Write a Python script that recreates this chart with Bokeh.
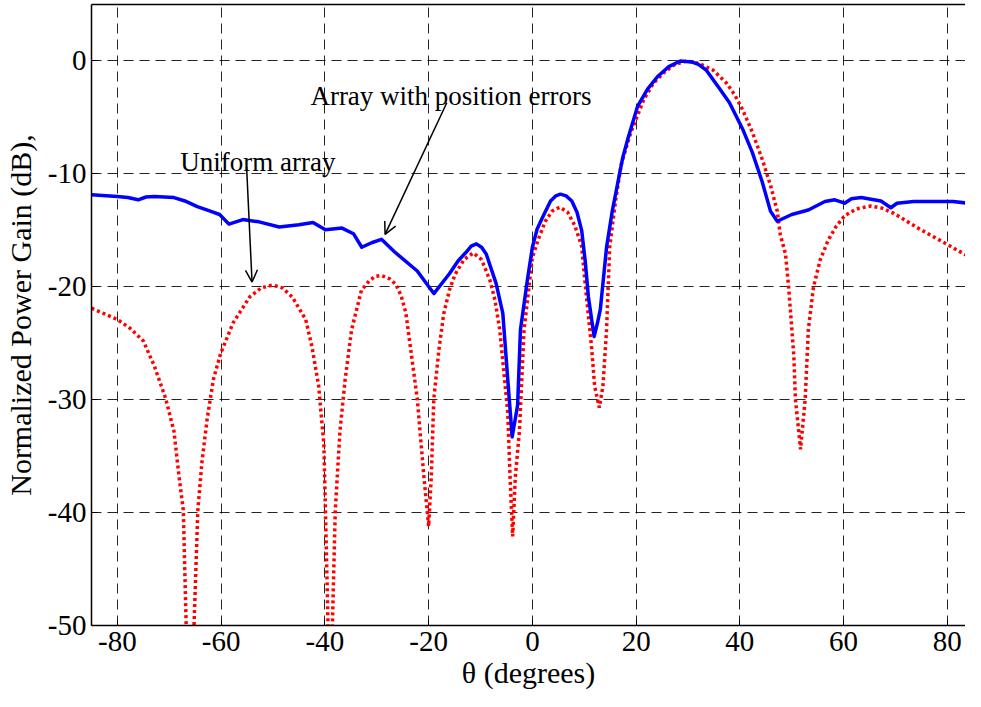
from bokeh.plotting import figure
from bokeh.models import FixedTicker, LinearAxis, Arrow, OpenHead, Label, Range1d
from bokeh.embed import file_html
from bokeh.resources import INLINE

# ---- data ----
x_ticks = [-80, -60, -40, -20, 0, 20, 40, 60, 80]
y_ticks = [-50, -40, -30, -20, -10, 0]
x_tick_labels = ["-80", "-60", "-40", "-20", "0", "20", "40", "60", "80"]
y_tick_labels = ["-50", "-40", "-30", "-20", "-10", "0"]

# Uniform array (red dotted)
uni_theta = [-85, -80, -77.5, -75, -72.9, -70.7, -69.1, -68.1, -67.3, -66.1, -64.5, -63.7,
             -62.7, -61.5, -60.1, -57.7, -54.5, -52.3, -50.1, -48.2, -46.3, -43.7, -42.5,
             -41.2, -40.2, -39.9, -39.0, -38.0, -37.1, -36.1, -34.85, -32.95, -31.5, -30.4,
             -29.1, -27.5, -26.3, -25.3, -24.4, -22.2, -20.9, -20.0, -19.5, -19.0, -18.0,
             -17.1, -16.0, -14.9, -13.2, -11.4, -9.8, -8.2, -7.2, -6.3, -4.75, -4.3, -3.8,
             -3.3, -2.5, -1.6, 0, 1.3, 2.5, 3.8, 5.3, 6.8, 8.2, 9.5, 10.1, 11.4, 12.0, 12.9,
             13.6, 14.3, 14.9, 16.0, 17.1, 19.0, 21.5, 23.3, 25.3, 27.5, 29.8, 32.0, 34.8,
             37.4, 39.0, 40.5, 42.4, 44.3, 45.9, 47.2, 47.8, 48.8, 49.4, 50.4, 50.7, 51.7,
             52.6, 53.2, 54.2, 55.5, 57.0, 58.5, 60.2, 62.5, 65.2, 67.5, 69.7, 74.7, 79.8, 84]
uni_gain = [-21.9, -22.9, -23.7, -24.8, -27.0, -29.9, -32.8, -36.9, -39.8, -62, -39.8, -35.5,
            -31.7, -28.2, -25.9, -23.2, -20.9, -20.1, -19.85, -20.1, -20.9, -22.9, -25.3,
            -28.8, -34.0, -39.8, -58, -39.8, -32.8, -28.2, -23.8, -20.3, -19.5, -19.1,
            -19.0, -19.3, -19.8, -20.8, -22.3, -29.9, -36.9, -41.2, -36.9, -29.9, -25.5,
            -22.4, -20.3, -18.9, -17.6, -17.0, -17.6, -19.4, -21.2, -23.8, -31.1, -36.9, -42.1,
            -36.9, -32.8, -23.8, -17.4, -15.6, -14.2, -13.3, -12.95, -13.4, -14.6, -16.4, -19.4, -25.3, -28.8, -30.7,
            -28.8, -23.8, -16.5, -12.5, -9.2, -6.3, -3.4, -2.0, -1.05, -0.3, 0, -0.2, -0.8,
            -1.95, -3.0, -4.3, -6.3, -8.7, -11.0, -13.3, -15.4, -17.1, -20.0, -26.1, -29.9, -34.4,
            -29.9, -23.8, -20.0, -17.6, -15.9, -14.7, -13.7, -13.1, -12.85, -13.05, -13.5, -14.9, -16.2, -17.3]

# Array with position errors (blue solid)
err_theta = [-85, -80, -78, -76, -74.5, -72.9, -69.1, -67, -64.6, -62.1, -60.3, -58.5, -55.8,
             -52.7, -48.8, -45, -42.3, -39.9, -36.7, -34.5, -32.9, -31, -29.1, -26.6, -22.2,
             -19, -16, -14.3, -12.7, -11.8, -10.8, -9.8, -8.9, -7.0, -5.7, -4.75, -3.9, -2.85,
             -2.3, -1.0, 0, 0.9, 1.9, 3.5, 4.5, 5.4, 6.5, 7.6, 8.6, 9.5, 10.2, 10.8, 11.9,
             12.5, 13.1, 14.3, 15.4, 16.5, 17.4, 18.4, 20.3, 22.2, 24.1, 26.3, 28.5, 30.8,
             32.0, 33.5, 36, 38, 40.5, 42.4, 44.3, 45.9, 47.2, 50, 53.2, 56.4, 58.3, 60.2,
             61.5, 63.4, 67.2, 69.1, 70.3, 73.5, 81.1, 84]
err_gain = [-11.86, -12.0, -12.1, -12.3, -12.05, -12.0, -12.1, -12.4, -12.9, -13.3, -13.6, -14.45, -14.05,
            -14.25, -14.7, -14.5, -14.3, -14.95, -14.8, -15.3, -16.5, -16.1, -15.8, -16.9, -18.6,
            -20.6, -18.85, -17.7, -16.9, -16.4, -16.2, -16.5, -17.1, -19.7, -22.35, -28.2, -33.3, -30.5,
            -23.8, -19.5, -16.5, -14.9, -13.9, -12.4, -11.95, -11.8, -11.95, -12.4, -13.4, -15.0, -17.8, -20.9, -24.4,
            -23.3, -22.0, -16.5, -13.3, -10.7, -8.6, -6.9, -4.0, -2.5, -1.4, -0.5, 0, -0.1,
            -0.3, -0.8, -2.4, -3.7, -6.0, -8.1, -10.7, -13.3, -14.2, -13.6, -13.2, -12.45, -12.3, -12.6,
            -12.2, -12.1, -12.4, -13.0, -12.6, -12.45, -12.45, -12.6]

FONT = "Liberation Serif"

p = figure(width=965, height=691, x_range=Range1d(-85, 83.5), y_range=Range1d(-50, 5),
           output_backend="svg", toolbar_location=None,
           min_border_left=90, min_border_right=0, min_border_top=4, min_border_bottom=0)
p.outline_line_color = None
p.background_fill_color = "white"
p.border_fill_color = "white"

# grid
for g, t in ((p.xgrid, x_ticks), (p.ygrid, y_ticks)):
    g.ticker = FixedTicker(ticks=t)
    g.grid_line_color = "black"
    g.grid_line_alpha = 0.85
    g.grid_line_dash = "10 6"
    g.grid_line_width = 1

# axes
p.xaxis.ticker = FixedTicker(ticks=x_ticks)
p.yaxis.ticker = FixedTicker(ticks=y_ticks)
p.xaxis.major_label_overrides = {float(t): s for t, s in zip(x_ticks, x_tick_labels)}
p.yaxis.major_label_overrides = {float(t): s for t, s in zip(y_ticks, y_tick_labels)}
for ax in (p.xaxis[0], p.yaxis[0]):
    ax.axis_line_color = "black"
    ax.axis_line_width = 1.5
    ax.major_tick_in = 6
    ax.major_tick_out = 0
    ax.minor_tick_line_color = None
    ax.major_label_text_font = FONT
    ax.major_label_text_font_size = "29px"
    ax.major_label_text_color = "black"
    ax.axis_label_text_font = FONT
    ax.axis_label_text_font_size = "30px"
    ax.axis_label_text_font_style = "normal"
    ax.axis_label_text_color = "black"
p.xaxis.axis_label = "θ (degrees)"
p.yaxis.axis_label = "Normalized Power Gain (dB),"
p.xaxis.major_label_standoff = 6
p.xaxis.axis_label_standoff = 2
p.yaxis.major_label_standoff = 5
p.yaxis.axis_label_standoff = 8

top = LinearAxis(ticker=FixedTicker(ticks=[]), major_tick_in=0, major_tick_out=0,
                 minor_tick_line_color=None, axis_line_color="black", axis_line_width=1.5,
                 major_label_standoff=0)
p.add_layout(top, "above")

# curves
p.line(uni_theta, uni_gain, line_color="#ff0000", line_width=3.5, line_dash="3 3")
p.line(err_theta, err_gain, line_color="#0000ff", line_width=3.5, line_join="round")

# annotations
p.add_layout(Label(x=-42.8, y=-3.12, text="Array with position errors", text_font=FONT,
                   text_font_size="27px", text_color="black", text_baseline="alphabetic"))
p.add_layout(Label(x=-67.9, y=-8.94, text="Uniform array", text_font=FONT,
                   text_font_size="27px", text_color="black", text_baseline="alphabetic"))
p.add_layout(Arrow(end=OpenHead(size=12, line_width=1.5, line_color="black"),
                   x_start=-16.5, y_start=-3.7, x_end=-28.4, y_end=-15.36,
                   line_width=1.5, line_color="black"))
p.add_layout(Arrow(end=OpenHead(size=12, line_width=1.5, line_color="black"),
                   x_start=-55.1, y_start=-9.38, x_end=-54.05, y_end=-19.58,
                   line_width=1.5, line_color="black"))

open("out.html", "w").write(file_html(p, INLINE))
